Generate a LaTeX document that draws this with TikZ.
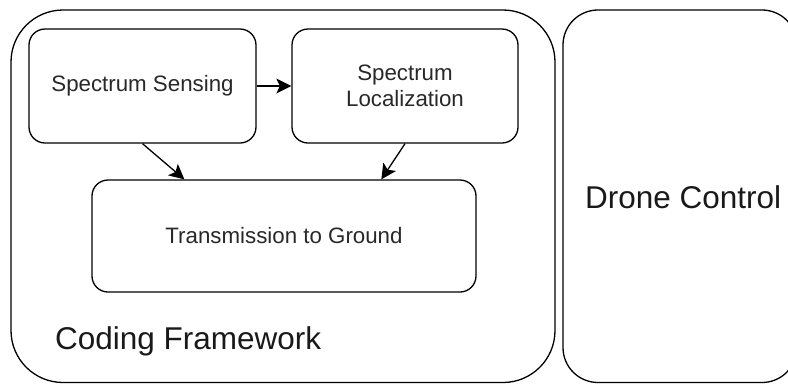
\documentclass[tikz,border=0pt]{standalone}
\usepackage{fontspec}
\setmainfont{Liberation Sans}
\usetikzlibrary{arrows.meta,calc}
\definecolor{txt}{RGB}{40,40,40}
\begin{document}
\begin{tikzpicture}[x=1pt,y=-1pt,
  box/.style={draw=black,line width=1.3pt,rounded corners=16pt,inner sep=0pt,text=txt,align=center,font=\fontsize{22.3}{26}\selectfont},
  conn/.style={line width=1.3pt,-{Stealth[length=15pt,width=15pt,inset=3.5pt]}},
  bigtxt/.style={font=\fontsize{31.5}{36}\selectfont,text=black!90,inner sep=0pt,anchor=base west}]
\useasboundingbox (0,0) rectangle (788,384);
\begin{scope}
\clip (0,0) rectangle (788,384);
\draw[line width=1.3pt,rounded corners=52pt] (11,10) rectangle (555,382.5);
\draw[line width=1.3pt,rounded corners=35pt] (563,10) rectangle (797,382.5);
\end{scope}
\node[bigtxt] (cf) at (55,349) {Coding Framework};
\node[bigtxt] (dc) at (585,208) {Drone Control};
\node[box,minimum width=227pt,minimum height=114pt] (sens) at (142.5,86) {Spectrum Sensing};
\node[box,minimum width=226pt,minimum height=114pt] (loc) at (405,86) {Spectrum\\Localization};
\node[box,minimum width=384pt,minimum height=112pt] (trans) at (284,236) {Transmission to Ground};
\coordinate (t1) at ($(trans.north west)+(93,0)$);
\coordinate (t2) at ($(trans.north west)+(290,0)$);
\draw[conn] (sens.east) -- (loc.west);
\draw[conn] (sens.south) -- (t1);
\draw[conn] (loc.south) -- (t2);
\end{tikzpicture}
\end{document}
